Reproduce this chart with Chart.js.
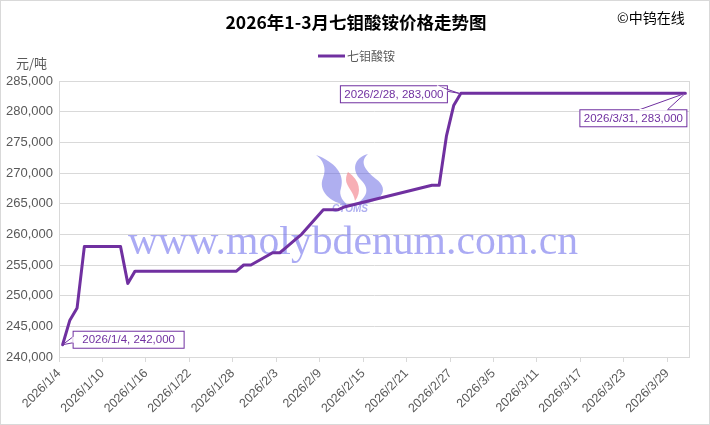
<!DOCTYPE html>
<html>
<head>
<meta charset="utf-8">
<script src="https://cdn.jsdelivr.net/npm/chart.js@4"></script>
<style>
  html, body { margin: 0; padding: 0; background: #fff; }
  #wrap { width: 710px; height: 425px; }
</style>
</head>
<body>
<div id="wrap"><canvas id="myChart"></canvas></div>
<script>
// DATA
const dates = [
  '2026/1/4', '2026/1/5', '2026/1/6', '2026/1/7', '2026/1/8', '2026/1/9',
  '2026/1/12', '2026/1/13', '2026/1/14', '2026/1/15', '2026/1/16',
  '2026/1/19', '2026/1/20', '2026/1/21', '2026/1/22', '2026/1/23',
  '2026/1/26', '2026/1/27', '2026/1/28', '2026/1/29', '2026/1/30',
  '2026/2/2', '2026/2/3', '2026/2/4', '2026/2/5', '2026/2/6',
  '2026/2/9', '2026/2/10', '2026/2/11', '2026/2/12',
  '2026/2/24', '2026/2/25', '2026/2/26', '2026/2/27', '2026/2/28',
  '2026/3/2', '2026/3/3', '2026/3/4', '2026/3/5', '2026/3/6',
  '2026/3/9', '2026/3/10', '2026/3/11', '2026/3/12', '2026/3/13',
  '2026/3/16', '2026/3/17', '2026/3/18', '2026/3/19', '2026/3/20',
  '2026/3/23', '2026/3/24', '2026/3/25', '2026/3/26', '2026/3/27',
  '2026/3/30', '2026/3/31'
];
const prices = [
  242000, 246000, 248000, 258000, 258000, 258000,
  258000, 252000, 254000, 254000, 254000,
  254000, 254000, 254000, 254000, 254000,
  254000, 254000, 254000, 255000, 255000,
  257000, 257000, 258000, 259000, 260000,
  264000, 264000, 264000, 264500,
  268000, 268000, 276000, 281000, 283000,
  283000, 283000, 283000, 283000, 283000,
  283000, 283000, 283000, 283000, 283000,
  283000, 283000, 283000, 283000, 283000,
  283000, 283000, 283000, 283000, 283000,
  283000, 283000
];
const xTickLabels = [
  '2026/1/4', '2026/1/10', '2026/1/16', '2026/1/22', '2026/1/28',
  '2026/2/3', '2026/2/9', '2026/2/15', '2026/2/21', '2026/2/27',
  '2026/3/5', '2026/3/11', '2026/3/17', '2026/3/23', '2026/3/29'
];
const yTicks = [240000, 245000, 250000, 255000, 260000, 265000, 270000, 275000, 280000, 285000];
const labelledPoints = ['2026/1/4', '2026/2/28', '2026/3/31'];

const seriesName = '七钼酸铵';
const chartTitle = '2026年1-3月七钼酸铵价格走势图';
const copyright = '©中钨在线';
const unit = '元/吨';
const watermark = 'www.molybdenum.com.cn';

// helpers
const day0 = Date.UTC(2026, 0, 4);
function dayOf(s) {
  const p = s.split('/').map(Number);
  return (Date.UTC(p[0], p[1] - 1, p[2]) - day0) / 86400000;
}
const fmt = v => v.toLocaleString('en-US');
const purple = '#7030A0';
const grey = '#595959';
const gridGrey = '#d9d9d9';
const sans = '"Liberation Sans", Arial, sans-serif';
const cjk = '"Noto Sans CJK SC", sans-serif';

function callout(ctx, text, bx, by, bw, bh, tip, base) {
  ctx.save();
  ctx.beginPath();
  ctx.rect(bx, by, bw, bh);
  ctx.fillStyle = '#fff';
  ctx.fill();
  ctx.beginPath();
  ctx.moveTo(base[0][0], base[0][1]);
  ctx.lineTo(tip[0], tip[1]);
  ctx.lineTo(base[1][0], base[1][1]);
  ctx.closePath();
  ctx.fill();
  ctx.strokeStyle = purple;
  ctx.lineWidth = 1;
  ctx.beginPath();
  ctx.moveTo(base[0][0], base[0][1]);
  ctx.lineTo(tip[0], tip[1]);
  ctx.lineTo(base[1][0], base[1][1]);
  ctx.stroke();
  ctx.strokeRect(bx + 0.5, by + 0.5, bw, bh);
  // hide the box edge under the wedge
  ctx.strokeStyle = '#fff';
  ctx.lineWidth = 1.5;
  ctx.beginPath();
  ctx.moveTo(base[0][0], base[0][1]);
  ctx.lineTo(base[1][0], base[1][1]);
  ctx.stroke();
  ctx.fillStyle = purple;
  ctx.font = '11.5px ' + sans;
  ctx.textAlign = 'center';
  ctx.textBaseline = 'middle';
  ctx.fillText(text, bx + bw / 2 + 0.5, by + bh / 2 + 1);
  ctx.restore();
}

function drawLogo(ctx, cx, cy) {
  ctx.save();
  ctx.fillStyle = 'rgba(95, 95, 225, 0.5)';
  // left swoosh
  ctx.beginPath();
  ctx.moveTo(cx - 29, cy - 27);
  ctx.bezierCurveTo(cx - 10, cy - 20, cx + 0, cy - 8, cx - 4, cy + 6);
  ctx.bezierCurveTo(cx - 7, cy + 14, cx - 1, cy + 20, cx + 3, cy + 23);
  ctx.bezierCurveTo(cx - 16, cy + 21, cx - 27, cy + 8, cx - 22, cy - 4);
  ctx.bezierCurveTo(cx - 18, cy - 14, cx - 22, cy - 22, cx - 29, cy - 27);
  ctx.fill();
  // right swoosh
  ctx.beginPath();
  ctx.moveTo(cx + 23, cy - 28);
  ctx.bezierCurveTo(cx + 14, cy - 20, cx + 20, cy - 12, cx + 31, cy - 3);
  ctx.bezierCurveTo(cx + 46, cy + 8, cx + 36, cy + 22, cx + 10, cy + 23);
  ctx.bezierCurveTo(cx + 24, cy + 14, cx + 24, cy + 6, cx + 16, cy - 2);
  ctx.bezierCurveTo(cx + 6, cy - 12, cx + 9, cy - 24, cx + 23, cy - 28);
  ctx.fill();
  // pink flame
  ctx.fillStyle = 'rgba(240, 110, 120, 0.55)';
  ctx.beginPath();
  ctx.moveTo(cx + 3, cy - 10);
  ctx.bezierCurveTo(cx + 15, cy - 2, cx + 17, cy + 10, cx + 10, cy + 19);
  ctx.bezierCurveTo(cx + 9, cy + 10, cx + 1, cy + 4, cx + 1, cy - 2);
  ctx.bezierCurveTo(cx + 1, cy - 6, cx + 2, cy - 8, cx + 3, cy - 10);
  ctx.fill();
  // letters
  ctx.fillStyle = 'rgba(95, 95, 225, 0.5)';
  ctx.font = 'italic bold 10px ' + sans;
  ctx.textAlign = 'center';
  ctx.textBaseline = 'middle';
  ctx.fillText('CTOMS', cx + 5, cy + 27);
  ctx.restore();
}

const decor = {
  id: 'decor',
  beforeDraw(chart) {
    const ctx = chart.ctx;
    const w = chart.width, h = chart.height;
    ctx.save();
    ctx.fillStyle = '#fff';
    ctx.fillRect(0, 0, w, h);
    ctx.strokeStyle = gridGrey;
    ctx.lineWidth = 1;
    ctx.strokeRect(0.5, 0.5, w - 1, h - 1);

    ctx.fillStyle = '#000';
    ctx.font = 'bold 17.5px ' + cjk;
    ctx.textAlign = 'center';
    ctx.textBaseline = 'middle';
    ctx.fillText(chartTitle, 356, 22);

    ctx.font = '14px ' + cjk;
    ctx.textAlign = 'left';
    ctx.fillText(copyright, 617, 18);

    // legend
    ctx.strokeStyle = purple;
    ctx.lineWidth = 3;
    ctx.beginPath();
    ctx.moveTo(318, 56);
    ctx.lineTo(345, 56);
    ctx.stroke();
    ctx.fillStyle = grey;
    ctx.font = '12px ' + cjk;
    ctx.fillText(seriesName, 347, 56);

    ctx.font = '13px ' + cjk;
    ctx.fillText(unit, 16, 63);
    ctx.restore();
  },
  beforeDatasetsDraw(chart) {
    const ctx = chart.ctx;
    const a = chart.chartArea;
    ctx.save();
    ctx.strokeStyle = gridGrey;
    ctx.lineWidth = 1;
    ctx.strokeRect(a.left + 0.5, a.top + 0.5, a.right - a.left, a.bottom - a.top);

    drawLogo(ctx, 345, 182);

    ctx.fillStyle = 'rgba(100, 100, 235, 0.55)';
    ctx.font = '40px "Liberation Serif", "Times New Roman", serif';
    ctx.textBaseline = 'alphabetic';
    ctx.textAlign = 'left';
    const tw = ctx.measureText(watermark).width;
    ctx.translate(128, 254);
    ctx.scale(450 / tw, 1);
    ctx.fillText(watermark, 0, 0);
    ctx.restore();
  },
  afterDatasetsDraw(chart) {
    const ctx = chart.ctx;
    const xs = chart.scales.x, ys = chart.scales.y;
    labelledPoints.forEach((d, k) => {
      const i = dates.indexOf(d);
      const px = xs.getPixelForValue(dayOf(d));
      const py = ys.getPixelForValue(prices[i]);
      const text = d + ', ' + fmt(prices[i]);
      if (k === 0) {
        const bx = px + 10, by = py - 14;
        callout(ctx, text, bx, by, 111, 17, [px, py], [[bx + 0.5, by + 6], [bx + 0.5, by + 12]]);
      } else if (k === 1) {
        const bx = px - 121, by = py - 8;
        callout(ctx, text, bx, by, 107, 17, [px - 2, py], [[bx + 97, by + 0.5], [bx + 107.5, by + 6]]);
      } else {
        const bx = px - 106, by = py + 16;
        callout(ctx, text, bx, by, 107, 17, [px, py], [[bx + 60, by + 0.5], [bx + 88, by + 0.5]]);
      }
    });
  }
};

const ctx = document.getElementById('myChart');

new Chart(ctx, {
  type: 'line',
  data: {
    datasets: [{
      label: seriesName,
      data: dates.map((d, i) => ({ x: dayOf(d), y: prices[i] })),
      borderColor: purple,
      backgroundColor: purple,
      borderWidth: 3,
      pointRadius: 0,
      tension: 0,
      borderJoinStyle: 'round',
      borderCapStyle: 'round'
    }]
  },
  options: {
    responsive: true,
    maintainAspectRatio: false,
    animation: false,
    events: [],
    layout: { padding: { top: 81, right: 21, left: 0, bottom: 0 } },
    plugins: {
      legend: { display: false },
      title: { display: false },
      tooltip: { enabled: false }
    },
    scales: {
      x: {
        type: 'linear',
        min: -0.5,
        max: dayOf(dates[dates.length - 1]) + 0.5,
        afterFit: s => { s.height = 68; },
        afterBuildTicks: s => {
          s.ticks = xTickLabels.map(t => ({ value: dayOf(t) - 0.5 }));
        },
        ticks: {
          autoSkip: false,
          minRotation: 45,
          maxRotation: 45,
          padding: 4,
          color: grey,
          font: { family: sans, size: 12.5 },
          callback: (v, i) => xTickLabels[i]
        },
        grid: { drawOnChartArea: false, color: gridGrey, tickLength: 5 },
        border: { color: gridGrey }
      },
      y: {
        min: yTicks[0],
        max: yTicks[yTicks.length - 1],
        afterFit: s => { s.width = 59; },
        afterBuildTicks: s => {
          s.ticks = yTicks.map(v => ({ value: v }));
        },
        ticks: {
          padding: 6,
          color: grey,
          font: { family: sans, size: 13 },
          callback: v => fmt(v)
        },
        grid: { color: gridGrey, drawTicks: false },
        border: { color: gridGrey }
      }
    }
  },
  plugins: [decor]
});
</script>
</body>
</html>
